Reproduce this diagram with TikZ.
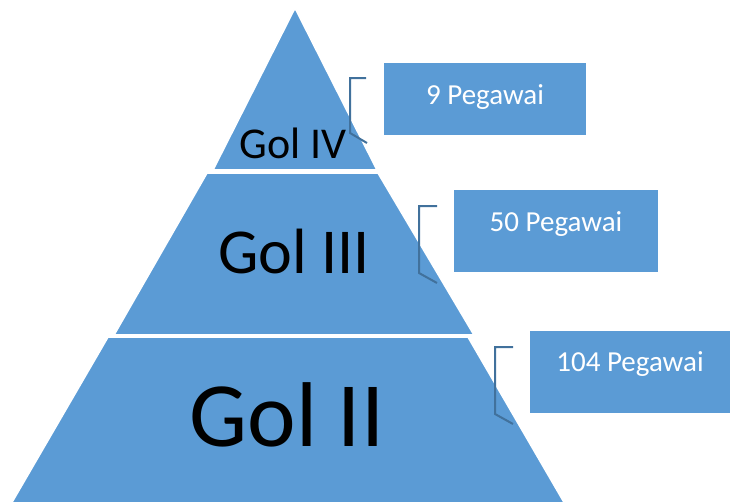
\documentclass[tikz,border=0pt]{standalone}
\usepackage{fontspec}
\setmainfont{Carlito}
\definecolor{pyrblue}{HTML}{5B9BD5}
\definecolor{brk}{HTML}{41719C}
\begin{document}
\begin{tikzpicture}[x=1pt,y=-1pt,
  layer/.style={fill=pyrblue, draw=white, line width=1.6pt, line join=miter},
  countbox/.style={fill=pyrblue, draw=none, inner sep=0pt, anchor=north west},
  counttext/.style={text=white, inner sep=0pt, anchor=base, font=\fontsize{29}{34}\selectfont},
  goltext/.style={text=black, inner sep=0pt, anchor=base},
  bracketline/.style={draw=brk, line width=2pt, line join=miter}]
\useasboundingbox (0,0) rectangle (738,501);
% pyramid layers
\path[layer] (295,8) -- (377,170) -- (213,170) -- cycle;
\path[layer] (207,173) -- (378,173) -- (474,335) -- (114,335) -- cycle;
\path[layer] (108,337) -- (468,337) -- (565,504) -- (11,504) -- cycle;
% layer labels
\node[goltext, font=\fontsize{44}{50}\selectfont] (g4) at (293,158) {Gol IV};
\node[goltext, font=\fontsize{64}{72}\selectfont] (g3) at (294,273) {Gol III};
\node[goltext, font=\fontsize{92}{100}\selectfont] (g2) at (287,446) {Gol II};
% count boxes
\node[countbox, minimum width=202pt, minimum height=72pt] (b1) at (384,63) {};
\node[countbox, minimum width=204pt, minimum height=82pt] (b2) at (454,190) {};
\node[countbox, minimum width=200pt, minimum height=82pt] (b3) at (530,331) {};
\node[counttext] (t1) at (485,104) {9 Pegawai};
\node[counttext] (t2) at (556,231) {50 Pegawai};
\node[counttext] (t3) at (630,371) {104 Pegawai};
% brackets
\coordinate (k1a) at (366,78); \coordinate (k1b) at (350,78);
\coordinate (k1c) at (350,133); \coordinate (k1d) at (367,143);
\coordinate (k2a) at (437,206); \coordinate (k2b) at (419,206);
\coordinate (k2c) at (419,273); \coordinate (k2d) at (437,283);
\coordinate (k3a) at (513,347); \coordinate (k3b) at (495,347);
\coordinate (k3c) at (495,414); \coordinate (k3d) at (513,424);
\draw[bracketline] (k1a) -- (k1b) -- (k1c) -- (k1d);
\draw[bracketline] (k2a) -- (k2b) -- (k2c) -- (k2d);
\draw[bracketline] (k3a) -- (k3b) -- (k3c) -- (k3d);
\end{tikzpicture}
\end{document}
